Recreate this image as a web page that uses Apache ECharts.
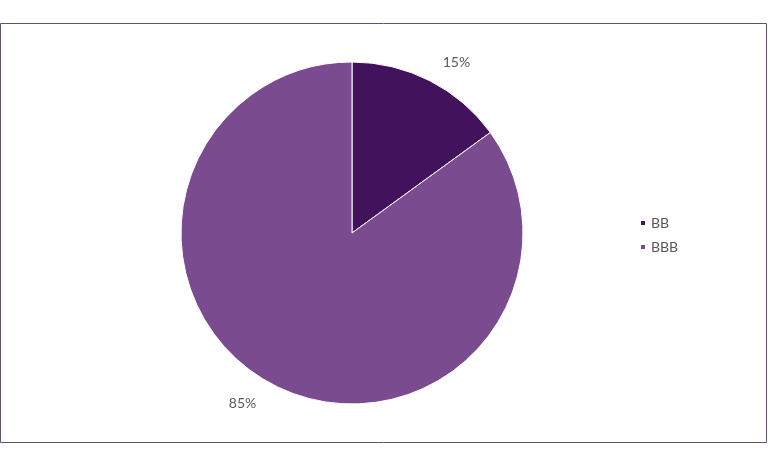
<!DOCTYPE html>
<html>
<head>
<meta charset="utf-8">
<script src="https://cdn.jsdelivr.net/npm/echarts@6/dist/echarts.min.js"></script>
<style>
html,body{margin:0;padding:0;background:#fff;}
#main{width:768px;height:471px;}
</style>
</head>
<body>
<div id="main"></div>
<script>
const categories = ['BB', 'BBB'];
const values = [15, 85];
const colors = ['#42125c', '#7a4b8e'];

const chart = echarts.init(document.getElementById('main'));
chart.setOption({
  animation: false,
  backgroundColor: '#ffffff',
  graphic: [{
    type: 'rect',
    shape: { x: 0.5, y: 23.5, width: 766, height: 419 },
    style: { fill: 'none', stroke: '#5f5370', lineWidth: 1 },
    silent: true
  }],
  legend: {
    orient: 'vertical',
    left: 634,
    top: 211,
    itemWidth: 6,
    itemHeight: 6,
    itemGap: 10,
    icon: 'rect',
    textStyle: { fontFamily: 'Lato', fontSize: 14, color: '#595959' },
    data: categories
  },
  series: [{
    type: 'pie',
    center: [352, 233],
    radius: [0, 171],
    startAngle: 90,
    clockwise: true,
    itemStyle: { borderColor: '#ffffff', borderWidth: 1 },
    label: {
      show: true,
      position: 'outside',
      formatter: '{d}%',
      fontFamily: 'Lato',
      fontSize: 14,
      color: '#595959',
      distanceToLabelLine: 4
    },
    labelLine: { show: false, length: 20, length2: 0 },
    data: categories.map((c, i) => ({
      name: c,
      value: values[i],
      itemStyle: { color: colors[i] },
      labelLine: { length2: i === 1 ? 5 : 0 }
    }))
  }]
});
</script>
</body>
</html>
